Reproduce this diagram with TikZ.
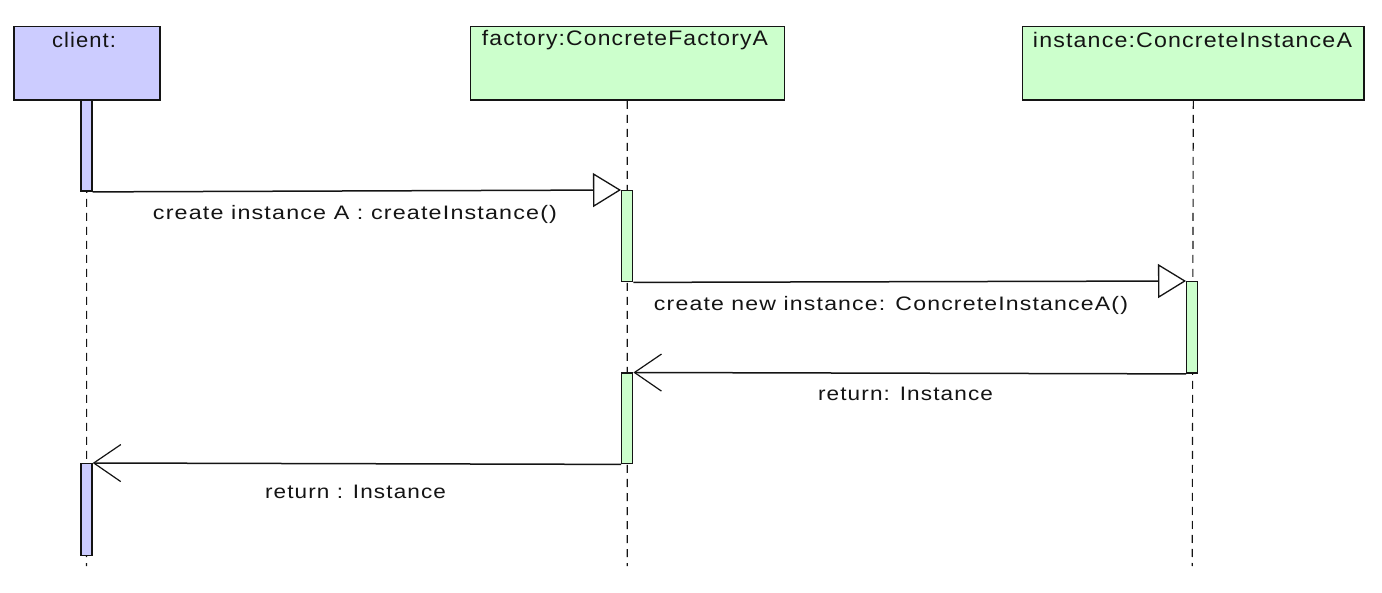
\documentclass[tikz,border=0pt]{standalone}
\usepackage{fontspec}
\setmainfont{Liberation Sans}
\newfontfamily\msgfont[LetterSpace=5]{Liberation Sans}
\usetikzlibrary{arrows.meta}
\definecolor{clientc}{RGB}{204,204,255}
\definecolor{objc}{RGB}{204,255,204}
\definecolor{ink}{RGB}{20,20,20}
\newcommand\wtxt[2]{\resizebox{#1}{\height}{#2}}
\begin{document}
\begin{tikzpicture}[x=1pt,y=-1pt,
  objbox/.style={draw=ink, line width=1.5pt, minimum height=73.5pt, inner sep=0pt, anchor=north west},
  hdr/.style={inner sep=0pt, anchor=center, text=ink, font=\msgfont\fontsize{21}{24}\selectfont},
  lbl/.style={inner sep=0pt, anchor=center, text=ink, font=\msgfont\fontsize{19.5}{22}\selectfont},
  actbar/.style={draw=ink, line width=1.4pt, minimum width=11pt, inner sep=0pt, anchor=north},
  lifeline/.style={draw=ink, line width=1.1pt, dash pattern=on 8pt off 6pt},
  msg/.style={draw=ink, line width=1.5pt},
  callhead/.style={-{Triangle[open, length=28pt, width=34pt, fill=white, line width=1.3pt]}},
  rethead/.style={-{Straight Barb[length=27pt, width=37pt, line width=1.2pt]}}
]
\useasboundingbox (0,0) rectangle (1382,593);
\fill[white] (0,0) rectangle (1382,593);

% object boxes
\node[objbox, fill=clientc, minimum width=146pt] (client) at (13,26) {};
\node[objbox, fill=objc, minimum width=314pt] (factory) at (469.5,26) {};
\node[objbox, fill=objc, minimum width=341.5pt] (instance) at (1021.8,26) {};

\node[hdr] (clientt) at (84,40) {\wtxt{64pt}{client:}};
\node[hdr] (factoryt) at (625,40) {\wtxt{286pt}{factory:ConcreteFactoryA}};
\node[hdr] (instancet) at (1192.5,40) {\wtxt{319pt}{instance:ConcreteInstanceA}};

% lifeline ends
\coordinate (clientend) at (86.5,566);
\coordinate (factoryend) at (627.2,566);
\coordinate (instanceend) at (1192.2,566);

\draw[lifeline] (client.south) -- (clientend);
\draw[lifeline] (factory.south) -- (factoryend);
\draw[lifeline] (instance.south) -- (instanceend);

% activation bars
\node[actbar, fill=clientc, minimum height=91pt] (cb1) at (86.5,99.5) {};
\node[actbar, fill=objc, minimum height=91pt] (fb1) at (627.2,190) {};
\node[actbar, fill=objc, minimum height=91.5pt] (ib) at (1192.2,281) {};
\node[actbar, fill=objc, minimum height=90.5pt] (fb2) at (627.2,372.5) {};
\node[actbar, fill=clientc, minimum height=92pt] (cb2) at (86.5,463) {};

% messages
\draw[msg, callhead] (cb1.south east) -- (fb1.north west);
\draw[msg, callhead] (fb1.south east) -- (ib.north west);
\draw[msg, rethead] (ib.south west) -- (fb2.north east);
\draw[msg, rethead] (fb2.south west) -- (cb2.north east);

\node[lbl] (m1) at (355,214) {\wtxt{404pt}{create instance A : createInstance()}};
\node[lbl] (m2) at (891,305) {\wtxt{474pt}{create new instance: ConcreteInstanceA()}};
\node[lbl] (m3) at (905.5,394) {\wtxt{175pt}{return: Instance}};
\node[lbl] (m4) at (355.5,492) {\wtxt{181pt}{return : Instance}};
\end{tikzpicture}
\end{document}
